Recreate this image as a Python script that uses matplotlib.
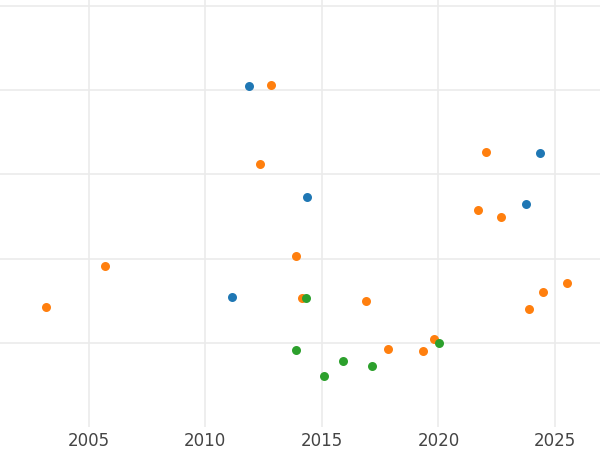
import matplotlib
matplotlib.use("Agg")
import matplotlib.pyplot as plt

# values (year, value)
blue_x = [2011.86, 2024.36, 2014.34, 2023.74, 2011.16]
blue_y = [4.05, 3.256, 2.734, 2.647, 1.539]

orange_x = [2012.80, 2012.33, 2022.06, 2021.70, 2022.67, 2013.87, 2005.71,
            2003.17, 2014.13, 2016.90, 2017.82, 2019.33, 2019.83, 2023.90,
            2024.47, 2025.53]
orange_y = [4.056, 3.125, 3.264, 2.576, 2.496, 2.030, 1.915,
            1.424, 1.528, 1.496, 0.926, 0.898, 1.048, 1.397,
            1.606, 1.706]

green_x = [2014.30, 2013.87, 2015.07, 2015.89, 2017.17, 2020.03]
green_y = [1.528, 0.914, 0.605, 0.787, 0.724, 0.997]

x_ticks = [2005, 2010, 2015, 2020, 2025]
y_grid = [1, 2, 3, 4, 5]

fig = plt.figure(figsize=(6, 4.5), dpi=100)
ax = fig.add_axes([0, 1 - 427 / 450, 1, 427 / 450])

ax.scatter(blue_x, blue_y, s=42, color="#1f77b4", linewidths=0, zorder=3)
ax.scatter(orange_x, orange_y, s=42, color="#ff7f0e", linewidths=0, zorder=3)
ax.scatter(green_x, green_y, s=42, color="#2ca02c", linewidths=0, zorder=3)

ax.set_xlim(2001.19, 2026.93)
ax.set_ylim(0, 5.07)
ax.set_xticks(x_ticks)
ax.set_xticklabels([str(t) for t in x_ticks])
ax.set_yticks(y_grid)
ax.set_yticklabels([])
ax.grid(True, color="#ebebeb", linewidth=1.2, zorder=0)
ax.set_axisbelow(True)
ax.tick_params(length=0, labelsize=12, labelcolor="#444444", pad=3.5)
for s in ax.spines.values():
    s.set_visible(False)

fig.savefig("out.png", dpi=100)
